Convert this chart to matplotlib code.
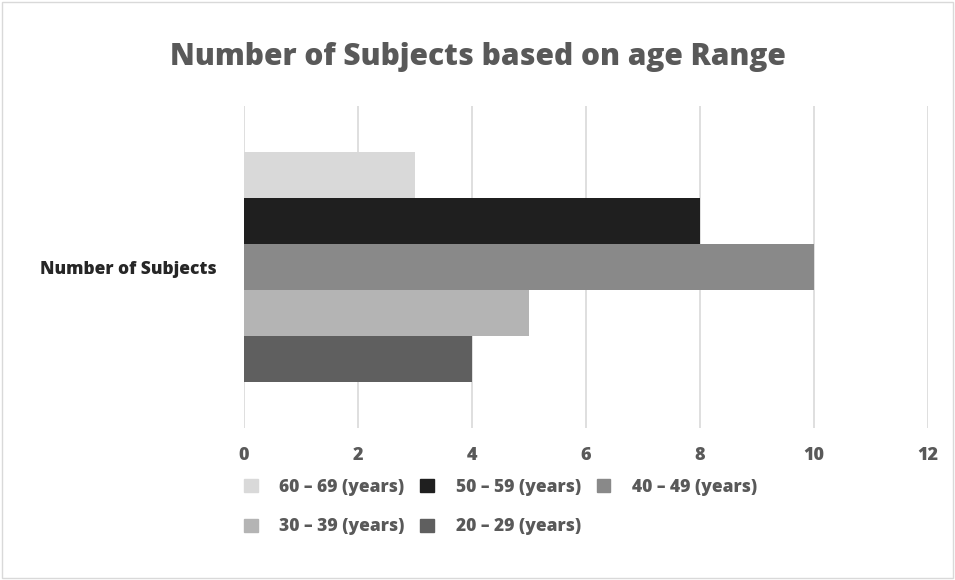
import matplotlib.pyplot as plt
from matplotlib.patches import Patch, Rectangle

plt.rcParams['font.family'] = ['Open Sans', 'DejaVu Sans']

category = "Number of Subjects"
series_labels = ["60 – 69 (years)", "50 – 59 (years)", "40 – 49 (years)",
                 "30 – 39 (years)", "20 – 29 (years)"]
series_values = [3, 8, 10, 5, 4]
series_colors = ["#d9d9d9", "#1f1f1f", "#898989", "#b4b4b4", "#5f5f5f"]
x_ticks = [0, 2, 4, 6, 8, 10, 12]

fig = plt.figure(figsize=(9.55, 5.8), dpi=100)
fig.patches.append(Rectangle((0.002, 0.003), 0.996, 0.994, transform=fig.transFigure,
                             fill=False, edgecolor="#d9d9d9", linewidth=1))
ax = fig.add_axes([244 / 955, 1 - 428 / 580, (928 - 244) / 955, (428 - 106) / 580])

n = len(series_values)
group_w = 230 / 322
bar_h = group_w / n
for i, (lab, val, col) in enumerate(zip(series_labels, series_values, series_colors)):
    y = group_w / 2 - bar_h * (i + 0.5)
    ax.barh(y, val, height=bar_h, color=col, label=lab, zorder=3)

ax.set_xlim(0, 12)
ax.set_ylim(-0.5, 0.5)
ax.set_xticks(x_ticks)
ax.set_xticklabels([str(t) for t in x_ticks], fontsize=13, fontweight="heavy", color="#595959")
ax.set_yticks([0])
ax.set_yticklabels([category], fontsize=12.5, fontweight="heavy", color="#262626")
ax.tick_params(length=0, pad=14)
ax.tick_params(axis="y", pad=20)
ax.grid(axis="x", color="#d9d9d9", linewidth=1.2, zorder=0)
for s in ax.spines.values():
    s.set_visible(False)

fig.text(0.5, 1 - 57 / 580, "Number of Subjects based on age Range", ha="center", va="center",
         fontsize=21.5, fontweight="heavy", color="#595959")

order = [0, 3, 1, 4, 2]
handles = [Patch(color=series_colors[i]) for i in order]
labels = [series_labels[i] for i in order]
fig.legend(handles, labels, ncol=3, loc="upper left", bbox_to_anchor=(228 / 955, 1 - 463 / 580),
           frameon=False, handlelength=0.8, handleheight=0.8, handletextpad=1.25,
           columnspacing=0.9, labelspacing=1.3, prop={"size": 12.5, "weight": "heavy"},
           labelcolor="#595959")

fig.savefig("out.png", dpi=100)
